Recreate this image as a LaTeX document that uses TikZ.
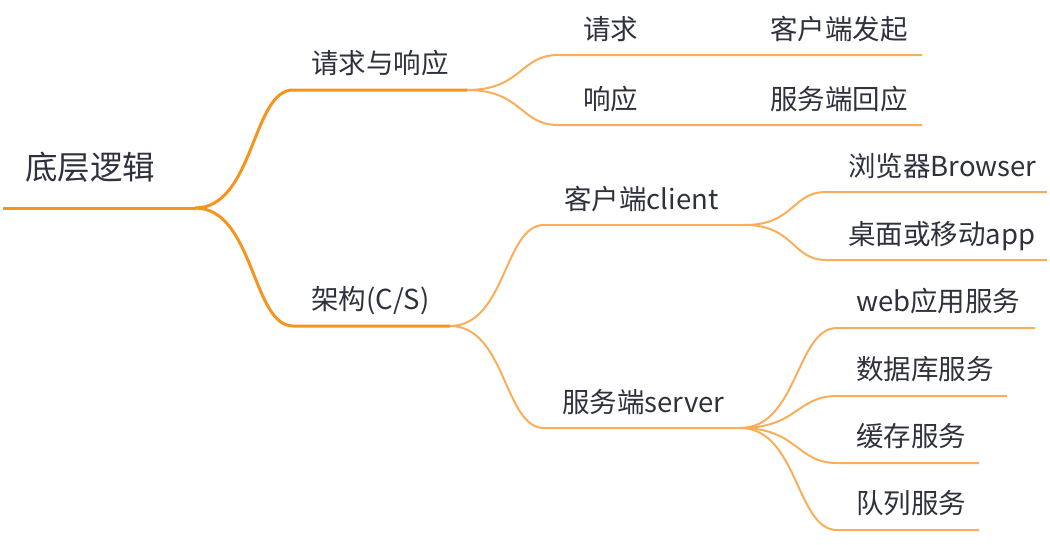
\documentclass[tikz,border=0pt]{standalone}
\usepackage{fontspec}
\setmainfont{Noto Sans CJK SC}
\definecolor{mapline}{HTML}{F7941D}
\definecolor{subline}{HTML}{F9AE5B}
\definecolor{maptext}{HTML}{2F323C}
\tikzset{
  topic/.style={anchor=west, inner sep=0pt, text=maptext, font=\fontsize{27.5}{32}\selectfont, text height=0.83em, text depth=0.07em},
  rootline/.style={mapline, line width=3pt},
  branch/.style={subline, line width=2pt},
}
\begin{document}
\begin{tikzpicture}[x=1pt, y=-1pt]
    \useasboundingbox (0,0) rectangle (1050,544);

    % Root topic
    \coordinate (root-l) at (3,208);
    \coordinate (root-r) at (195,208);
    \draw[rootline] (root-l) -- (root-r);
    \node[topic, font=\fontsize{32.5}{38}\selectfont] (root) at (25,176) {底层逻辑};

    % Main branches
    \foreach \name/\y/\len/\txt in {reqresp/90/467/请求与响应, arch/326/450/{架构(C/S)}} {
        \coordinate (\name-l) at (293,\y);
        \coordinate (\name-r) at (\len,\y);
        \draw[rootline] (root-r) .. controls +(59,0) and +(-41,0) .. (\name-l) -- (\name-r);
        \node[topic] (\name) at (311,\y-20) {\txt};
    }

    % Request and response
    \foreach \name/\y/\txt/\src in {req/55/请求/客户端发起, resp/125/响应/服务端回应} {
        \coordinate (\name-l) at (558,\y);
        \coordinate (\name-r) at (750,\y);
        \coordinate (\name src-r) at (922,\y);
        \draw[branch] (reqresp-r) .. controls +(55,0) and +(-38,0) .. (\name-l) -- (\name-r) -- (\name src-r);
        \node[topic] (\name) at (583,\y-19) {\txt};
        \node[topic] (\name src) at (770,\y-19) {\src};
    }

    % Client and server
    \coordinate (client-l) at (544,225);
    \coordinate (client-r) at (745,225);
    \coordinate (server-l) at (544,428);
    \coordinate (server-r) at (740,428);
    \draw[branch] (arch-r) .. controls +(56,0) and +(-40,0) .. (client-l) -- (client-r);
    \draw[branch] (arch-r) .. controls +(56,0) and +(-40,0) .. (server-l) -- (server-r);
    \node[topic] (client) at (564,206) {客户端client};
    \node[topic] (server) at (562,409) {服务端server};

    % Client kinds
    \foreach \name/\y/\txt in {browser/192/浏览器Browser, app/260/桌面或移动app} {
        \coordinate (\name-l) at (826,\y);
        \coordinate (\name-r) at (1047,\y);
        \draw[branch] (client-r) .. controls +(49,0) and +(-34,0) .. (\name-l) -- (\name-r);
        \node[topic] (\name) at (848,\y-19) {\txt};
    }

    % Server services
    \foreach \name/\y/\len/\txt in {web/328/1035/web应用服务, db/396/1007/数据库服务, cache/463/979/缓存服务, queue/530/979/队列服务} {
        \coordinate (\name-l) at (837,\y);
        \coordinate (\name-r) at (\len,\y);
        \draw[branch] (server-r) .. controls +(58,0) and +(-41,0) .. (\name-l) -- (\name-r);
        \node[topic] (\name) at (856,\y-20) {\txt};
    }

\end{tikzpicture}
\end{document}
